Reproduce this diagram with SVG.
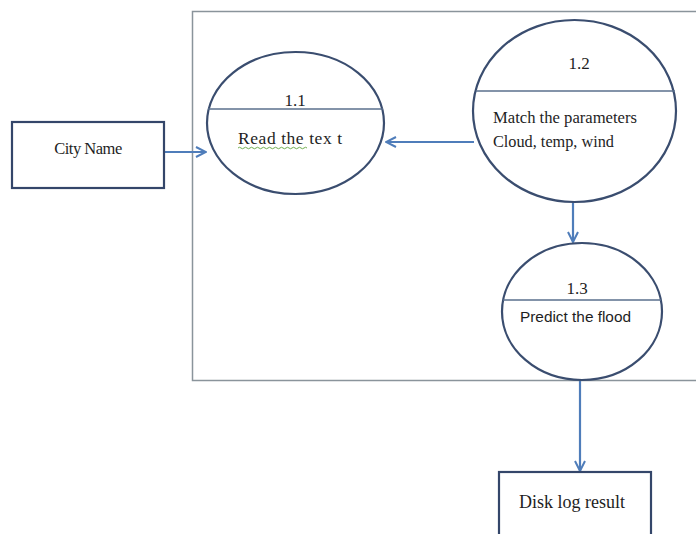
<svg xmlns="http://www.w3.org/2000/svg" width="696" height="534" viewBox="0 0 696 534">
<defs>
<style>
.bnd{fill:none;stroke:#8a949b;stroke-width:1.5}
.box{fill:#fff;stroke:#34466a;stroke-width:2.2}
.proc{fill:#fff;stroke:#3a4d6f;stroke-width:2.2}
.div{stroke:#5a6f8c;stroke-width:1.3}
.flow{fill:none;stroke:#4f7dba;stroke-width:2.2}
.serif{font-family:"Liberation Serif","Times New Roman",serif;fill:#1e1e1e}
.sans{font-family:"Liberation Sans",Arial,sans-serif;fill:#1e1e1e}
</style>
<marker id="arr" viewBox="0 0 12 12" refX="11" refY="6" markerWidth="12" markerHeight="12" markerUnits="userSpaceOnUse" orient="auto">
<path d="M1,1 L11,6 L1,11" fill="none" stroke="#4f7dba" stroke-width="2"/>
</marker>
</defs>
<rect width="696" height="534" fill="#fff"/>
<rect class="bnd" x="192.5" y="11.5" width="520" height="369"/>
<g id="connectors">
<line class="flow" x1="164" y1="152" x2="206" y2="152" marker-end="url(#arr)"/>
<line class="flow" x1="474" y1="142" x2="386" y2="142" marker-end="url(#arr)"/>
<line class="flow" x1="573" y1="201" x2="573" y2="242" marker-end="url(#arr)"/>
<line class="flow" x1="580" y1="380" x2="580" y2="471" marker-end="url(#arr)"/>
</g>
<g id="city">
<rect class="box" x="12" y="122" width="152" height="66"/>
<text class="serif" x="88" y="154" font-size="16.5" text-anchor="middle" letter-spacing="-0.5">City Name</text>
</g>
<g id="p11">
<ellipse class="proc" cx="295.5" cy="123" rx="88.5" ry="71"/>
<line class="div" x1="208" y1="109" x2="383" y2="109"/>
<text class="serif" x="295" y="106" font-size="17" text-anchor="middle">1.1</text>
<text class="serif" x="238" y="144" font-size="17.5" textLength="104" lengthAdjust="spacing">Read the tex t</text>
<path d="M238,148 q1.5,-1.5 3,0 t3,0 t3,0 t3,0 t3,0 t3,0 t3,0 t3,0 t3,0 t3,0 t3,0 t3,0 t3,0 t3,0 t3,0 t3,0 t3,0 t3,0 t3,0 t3,0 t3,0 t3,0 t3,0" fill="none" stroke="#6fae4f" stroke-width="1"/>
</g>
<g id="p12">
<ellipse class="proc" cx="574.5" cy="111" rx="101.5" ry="91"/>
<line class="div" x1="476" y1="91" x2="675" y2="91"/>
<text class="serif" x="579" y="69" font-size="17" text-anchor="middle">1.2</text>
<text class="serif" x="493" y="123" font-size="16.5" textLength="144" lengthAdjust="spacingAndGlyphs">Match the parameters</text>
<text class="serif" x="493" y="147" font-size="16.5" textLength="121" lengthAdjust="spacingAndGlyphs">Cloud, temp, wind</text>
</g>
<g id="p13">
<ellipse class="proc" cx="582" cy="311.5" rx="80" ry="68.5"/>
<line class="div" x1="503" y1="300" x2="661" y2="300"/>
<text class="serif" x="577" y="294" font-size="17" text-anchor="middle">1.3</text>
<text class="sans" x="520" y="322" font-size="15.5" textLength="111" lengthAdjust="spacingAndGlyphs">Predict the flood</text>
</g>
<g id="disk">
<rect class="box" x="499" y="472" width="152" height="80"/>
<text class="serif" x="519" y="508" font-size="18" textLength="106" lengthAdjust="spacingAndGlyphs">Disk log result</text>
</g>
</svg>
